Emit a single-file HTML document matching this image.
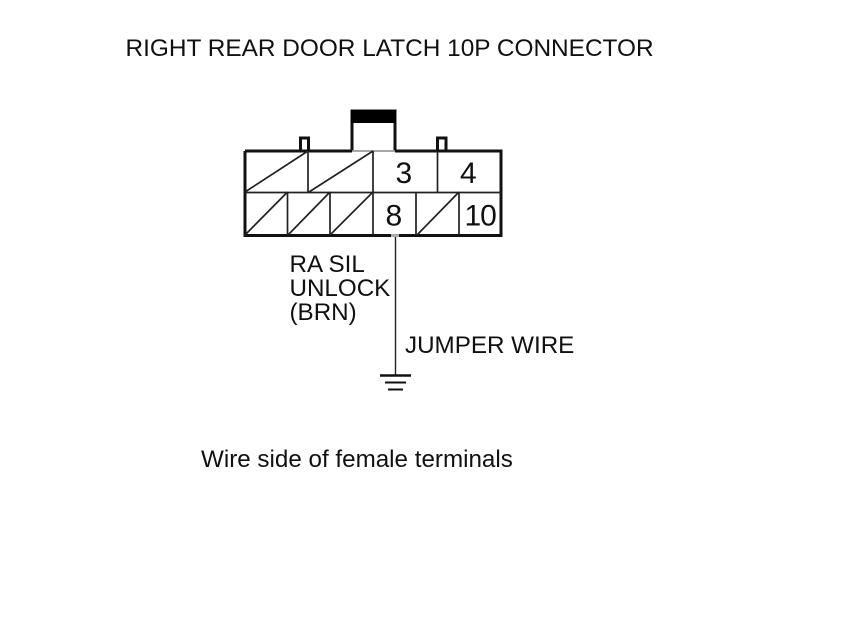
<!DOCTYPE html>
<html><head><meta charset="utf-8"><style>
html,body{margin:0;padding:0;background:#fff;width:860px;height:629px;overflow:hidden}
svg{display:block}
text{font-family:"Liberation Sans",Arial,sans-serif;fill:#111}
</style></head><body>
<svg width="860" height="629" viewBox="0 0 860 629" xmlns="http://www.w3.org/2000/svg">
<rect width="860" height="629" fill="#fff"/>
<text x="125.500" y="56" font-size="24.400">RIGHT REAR DOOR LATCH 10P CONNECTOR</text>
<g fill="none" stroke="#111" stroke-width="3">
<path d="M300.500 150V138H308.500V150"/>
<path d="M437.500 150V138H446V150"/>
<path d="M352 151V111H395V151"/>
<path d="M245 151H352M395 151H501V235.500H245V151"/>
</g>
<rect x="351" y="110" width="45" height="13" fill="#000"/>
<g fill="none" stroke="#222" stroke-width="1.700">
<path d="M352 151H395" stroke="#999"/>
<path d="M245 192.500H501"/>
<path d="M308 151V192M373 151V235M437.500 151V192"/>
<path d="M287.500 192V235M330 192V235M416 192V235M459 192V235"/>
<path d="M245 192L308 151M309 192L373 151"/>
<path d="M245 235L287.500 192M288 235L330 192M330 235L373 192M417 235L459 192"/>
</g>
<g font-size="30">
<text x="395.500" y="183">3</text>
<text x="460" y="183">4</text>
<text x="385.500" y="225.500">8</text>
<text x="464.500" y="225.500" letter-spacing="-1">10</text>
</g>
<rect x="391" y="234" width="8" height="3" fill="#aaa"/>
<path d="M395.500 237V375" stroke="#222" stroke-width="1.400" fill="none"/>
<path d="M380 375.500H411" stroke="#111" stroke-width="2.500"/>
<path d="M385 382.500H406" stroke="#111" stroke-width="2"/>
<path d="M388 389.500H403" stroke="#111" stroke-width="2"/>
<g font-size="24.200">
<text x="289.500" y="272">RA SIL</text>
<text x="289.500" y="296">UNLOCK</text>
<text x="289.500" y="320">(BRN)</text>
<text x="405" y="353">JUMPER WIRE</text>
<text x="201" y="467">Wire side of female terminals</text>
</g>
</svg>
</body></html>
